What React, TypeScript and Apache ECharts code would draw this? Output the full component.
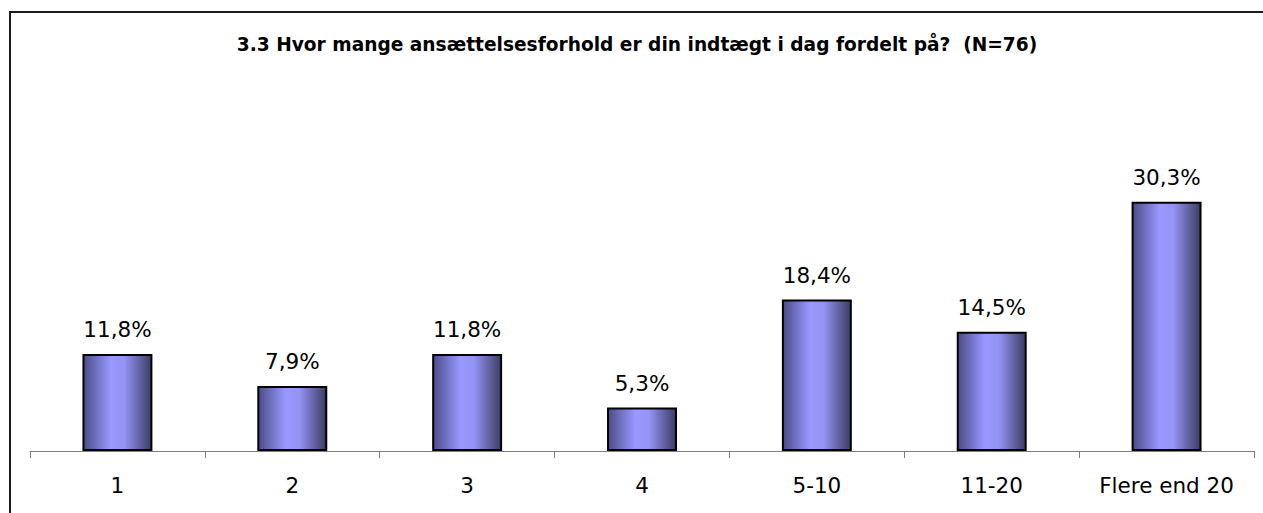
import React, { useEffect, useRef } from "react";
import * as echarts from "echarts";

const categories = ["1", "2", "3", "4", "5-10", "11-20", "Flere end 20"];
const values = [11.8, 7.9, 11.8, 5.3, 18.4, 14.5, 30.3];
const titleText = "3.3 Hvor mange ansættelsesforhold er din indtægt i dag fordelt på?  (N=76)";

export default function App() {
  const ref = useRef<HTMLDivElement>(null);
  useEffect(() => {
    document.body.style.margin = "0";
    const chart = echarts.init(ref.current!, null, { renderer: "svg" });
    chart.setOption({
      animation: false,
      backgroundColor: "#ffffff",
      title: {
        text: titleText,
        left: 632,
        textAlign: "center",
        top: 30,
        textStyle: { fontFamily: "DejaVu Sans", fontWeight: "bold", fontSize: 18.6, color: "#000" },
      },
      graphic: [
        {
          type: "rect",
          shape: { x: 10, y: 12, width: 1270, height: 520 },
          style: { fill: "none", stroke: "#1a1a1a", lineWidth: 2 },
          silent: true,
        },
      ],
      grid: { left: 30, right: 9, top: 163, bottom: 62 },
      xAxis: {
        type: "category",
        data: categories,
        axisLine: { lineStyle: { color: "#808080", width: 1 } },
        axisTick: { show: true, length: 7, alignWithLabel: false, lineStyle: { color: "#808080" } },
        axisLabel: { fontFamily: "DejaVu Sans", fontSize: 21.5, color: "#000", margin: 23, interval: 0 },
      },
      yAxis: { type: "value", min: 0, max: 35, show: false, splitLine: { show: false } },
      series: [
        {
          type: "bar",
          data: values,
          barWidth: "40%",
          itemStyle: {
            borderColor: "#000",
            borderWidth: 2,
            color: new echarts.graphic.LinearGradient(0, 0, 1, 0, [
              { offset: 0, color: "#4b4b88" },
              { offset: 0.4, color: "#9999ff" },
              { offset: 0.6, color: "#9494f5" },
              { offset: 1, color: "#3c3c64" },
            ]),
          },
          label: {
            show: true,
            position: "top",
            distance: 13,
            fontFamily: "DejaVu Sans",
            fontSize: 21.5,
            color: "#000",
            formatter: (p: any) => p.value.toFixed(1).replace(".", ",") + "%",
          },
        },
      ],
    });
    return () => chart.dispose();
  }, []);
  return <div ref={ref} style={{ width: 1263, height: 513, position: "absolute", left: 0, top: 0 }} />;
}
